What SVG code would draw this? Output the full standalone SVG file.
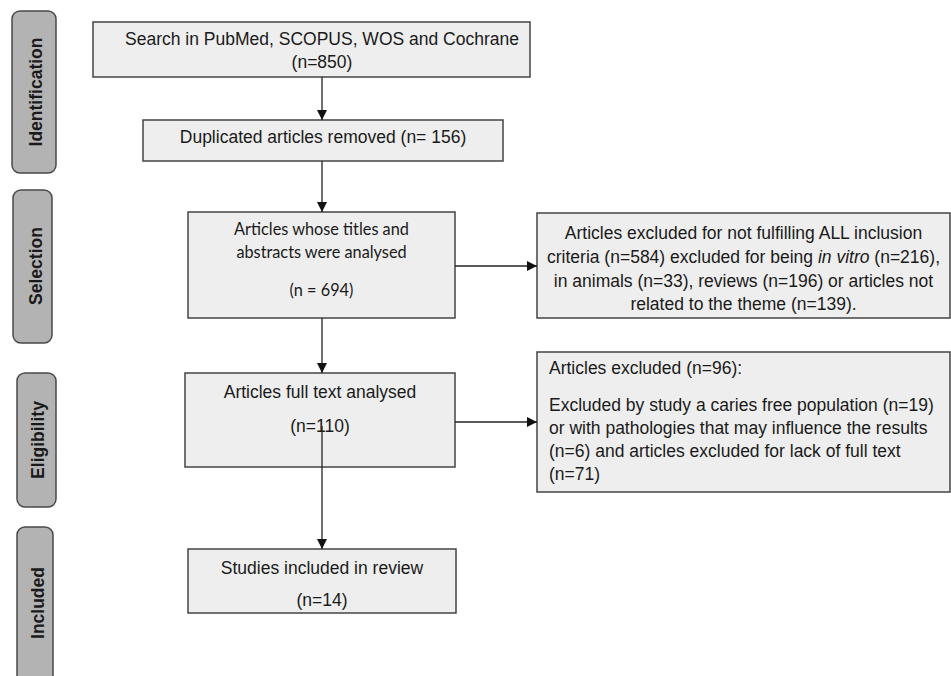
<svg xmlns="http://www.w3.org/2000/svg" width="951" height="676" viewBox="0 0 951 676">
<defs>
<style>
.box{fill:#eeeeee;stroke:#444444;stroke-width:1.5}
.side{fill:#b3b3b3;stroke:#4a4a4a;stroke-width:1.5}
.t{font-family:"Liberation Sans",Arial,sans-serif;font-size:17.5px;fill:#1a1a1a}
.c{font-family:Lato,"Open Sans",sans-serif;font-size:16.3px;fill:#1a1a1a}
.s{font-family:"Liberation Sans",Arial,sans-serif;font-size:17.5px;font-weight:bold;fill:#1a1a1a}
.m{text-anchor:middle}
.ln{stroke:#222222;stroke-width:1.3;fill:none}
</style>
<marker id="ah" viewBox="0 0 10 10" refX="10" refY="5" markerWidth="10" markerHeight="10" markerUnits="userSpaceOnUse" orient="auto">
<path d="M0,0 L10,5 L0,10 Z" fill="#111111"/>
</marker>
</defs>
<rect width="951" height="676" fill="#ffffff"/>

<g id="phase-identification">
<rect class="side" x="12" y="11" width="44" height="162" rx="8"/>
<text class="s m" transform="translate(42,92) rotate(-90)">Identification</text>
</g>
<g id="phase-selection">
<rect class="side" x="13" y="190" width="39" height="153" rx="8"/>
<text class="s m" transform="translate(42,266) rotate(-90)">Selection</text>
</g>
<g id="phase-eligibility">
<rect class="side" x="17" y="373" width="39" height="134" rx="8"/>
<text class="s m" transform="translate(44,440) rotate(-90)">Eligibility</text>
</g>
<g id="phase-included">
<rect class="side" x="17" y="527" width="36" height="170" rx="8"/>
<text class="s m" transform="translate(44,603) rotate(-90)">Included</text>
</g>

<g id="search">
<rect class="box" x="93" y="22" width="437" height="55"/>
<text class="t m" x="322" y="45">Search in PubMed, SCOPUS, WOS and Cochrane</text>
<text class="t m" x="322" y="68">(n=850)</text>
</g>
<g id="duplicates">
<rect class="box" x="143" y="120" width="360" height="41"/>
<text class="t m" x="323" y="143">Duplicated articles removed (n= 156)</text>
</g>
<g id="screened">
<rect class="box" x="188" y="212" width="267" height="106"/>
<text class="c m" x="321.5" y="235">Articles whose titles and</text>
<text class="c m" x="321.5" y="258">abstracts were analysed</text>
<text class="c m" x="321.5" y="296">(n = 694)</text>
</g>
<g id="excluded-screening">
<rect class="box" x="537" y="213" width="413" height="105"/>
<text class="t m" x="743.5" y="239">Articles excluded for not fulfilling ALL inclusion</text>
<text class="t m" x="743.5" y="263">criteria (n=584) excluded for being <tspan font-style="italic">in vitro</tspan> (n=216),</text>
<text class="t m" x="743.5" y="287">in animals (n=33), reviews (n=196) or articles not</text>
<text class="t m" x="743.5" y="310">related to the theme (n=139).</text>
</g>
<g id="fulltext">
<rect class="box" x="185" y="373" width="270" height="94"/>
<text class="t m" x="320" y="398">Articles full text analysed</text>
<text class="t m" x="320" y="432">(n=110)</text>
</g>
<g id="excluded-fulltext">
<rect class="box" x="537" y="352" width="413" height="140"/>
<text class="t" x="549" y="374">Articles excluded (n=96):</text>
<text class="t" x="549" y="411">Excluded by study a caries free population (n=19)</text>
<text class="t" x="549" y="434">or with pathologies that may influence the results</text>
<text class="t" x="549" y="457">(n=6) and articles excluded for lack of full text</text>
<text class="t" x="549" y="480">(n=71)</text>
</g>
<g id="included">
<rect class="box" x="188" y="549" width="268" height="64"/>
<text class="t m" x="322" y="574">Studies included in review</text>
<text class="t m" x="322" y="606">(n=14)</text>
</g>

<g id="connectors">
<line class="ln" x1="322" y1="77" x2="322" y2="120" marker-end="url(#ah)"/>
<line class="ln" x1="322" y1="161" x2="322" y2="212" marker-end="url(#ah)"/>
<line class="ln" x1="455" y1="266" x2="537" y2="266" marker-end="url(#ah)"/>
<line class="ln" x1="322" y1="318" x2="322" y2="373" marker-end="url(#ah)"/>
<line class="ln" x1="455" y1="422" x2="537" y2="422" marker-end="url(#ah)"/>
<line class="ln" x1="322" y1="426" x2="322" y2="549" marker-end="url(#ah)"/>
</g>
</svg>
